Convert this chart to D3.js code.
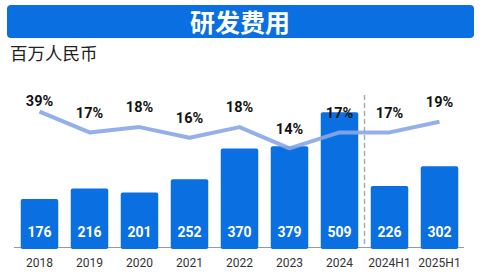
<!DOCTYPE html>
<html>
<head>
<meta charset="utf-8">
<script src="https://cdn.jsdelivr.net/npm/d3@7"></script>
<style>
  body { margin: 0; background: #fff; }
  svg { display: block; font-family: Roboto, "Noto Sans CJK SC", sans-serif; }
</style>
</head>
<body>
<svg id="chart" width="489" height="275"></svg>
<script>
const categories = ["2018", "2019", "2020", "2021", "2022", "2023", "2024", "2024H1", "2025H1"];
const rdExpense = [176, 216, 201, 252, 370, 379, 509, 226, 302];
const rdRatio = [39, 17, 18, 16, 18, 14, 17, 17, 19];

const svg = d3.select("#chart");
const BLUE = "#0a6fe0";
const CJK = "'Noto Sans CJK SC', sans-serif";

// title bar
svg.append("rect")
  .attr("x", 7).attr("y", 5)
  .attr("width", 467).attr("height", 33)
  .attr("rx", 4)
  .attr("fill", BLUE);
svg.append("text")
  .attr("x", 240).attr("y", 23)
  .attr("dy", "0.36em")
  .attr("text-anchor", "middle")
  .attr("fill", "#fff")
  .attr("font-family", CJK)
  .attr("font-size", 25)
  .attr("font-weight", "bold")
  .text("研发费用");

svg.append("text")
  .attr("x", 10).attr("y", 60)
  .attr("font-family", CJK)
  .attr("font-size", 17.5)
  .attr("fill", "#222")
  .text("百万人民币");

const x = d3.scaleBand()
  .domain(categories)
  .range([14.5, 464.5])
  .paddingInner(0.25)
  .paddingOuter(0.125);

const y = d3.scaleLinear().domain([0, 600]).range([244.8, 88.6]);
const barBottom = 249;

// ratio line is drawn on its own piecewise scale
const yLine = d3.scaleLinear().domain([14, 19, 39]).range([148.3, 121.8, 111.7]);

// axis baseline
svg.append("line")
  .attr("x1", 14).attr("x2", 464)
  .attr("y1", 247.5).attr("y2", 247.5)
  .attr("stroke", "#999").attr("stroke-width", 1);

// bars
svg.selectAll(".bar")
  .data(rdExpense)
  .enter()
  .append("rect")
  .attr("class", "bar")
  .attr("x", (d, i) => x(categories[i]))
  .attr("y", (d) => y(d))
  .attr("width", x.bandwidth())
  .attr("height", (d) => barBottom - y(d))
  .attr("rx", 2)
  .attr("fill", BLUE);

// bar values
svg.selectAll(".bar-label")
  .data(rdExpense)
  .enter()
  .append("text")
  .attr("class", "bar-label")
  .attr("x", (d, i) => x(categories[i]) + x.bandwidth() / 2)
  .attr("y", 236.5)
  .attr("text-anchor", "middle")
  .attr("fill", "#fff")
  .attr("font-size", 14)
  .attr("font-weight", "bold")
  .text((d) => d);

// separator between full years and half years
const sepX = (x("2024") + x.bandwidth() + x("2024H1")) / 2;
svg.append("line")
  .attr("x1", sepX).attr("x2", sepX)
  .attr("y1", 95).attr("y2", 247)
  .attr("stroke", "#aaa")
  .attr("stroke-width", 1.5)
  .attr("stroke-dasharray", "5,3");

// ratio line
const line = d3.line()
  .x((d, i) => x(categories[i]) + x.bandwidth() / 2)
  .y((d) => yLine(d));

svg.append("path")
  .datum(rdRatio)
  .attr("d", line)
  .attr("fill", "none")
  .attr("stroke", "#8aa7e6")
  .attr("stroke-opacity", 0.9)
  .attr("stroke-width", 4)
  .attr("stroke-linejoin", "round");

svg.selectAll(".ratio-label")
  .data(rdRatio)
  .enter()
  .append("text")
  .attr("class", "ratio-label")
  .attr("x", (d, i) => x(categories[i]) + x.bandwidth() / 2)
  .attr("y", (d) => Math.max(yLine(d) - 19.5, 100.7) + 4.8)
  .attr("text-anchor", "middle")
  .attr("fill", "#111")
  .attr("font-size", 14.5)
  .attr("font-weight", "bold")
  .text((d) => d + "%");

// category labels
svg.selectAll(".x-label")
  .data(categories)
  .enter()
  .append("text")
  .attr("class", "x-label")
  .attr("x", (d) => x(d) + x.bandwidth() / 2)
  .attr("y", 267)
  .attr("text-anchor", "middle")
  .attr("fill", "#333")
  .attr("font-size", 12)
  .text((d) => d);
</script>
</body>
</html>
